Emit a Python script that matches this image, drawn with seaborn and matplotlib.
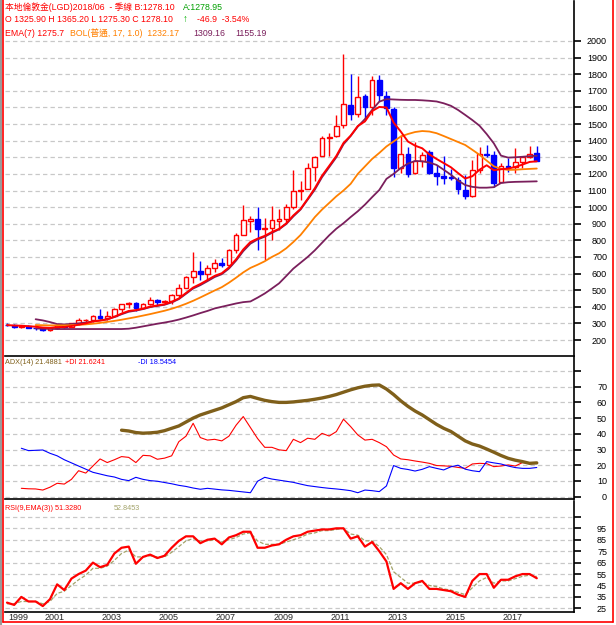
import numpy as np
import pandas as pd
import matplotlib
matplotlib.use("Agg")
import matplotlib.pyplot as plt
import matplotlib.transforms as mtransforms
from matplotlib.lines import Line2D
import seaborn as sns

# quarterly bars, 1999Q4 .. 2018Q2
quarters = pd.period_range("1999Q4", "2018Q2", freq="Q")

opens = [293, 290, 278, 284, 274, 272, 258, 270, 292, 278, 302, 318, 323, 347, 334, 346, 388, 416, 424, 394,
         416, 438, 428, 437, 473, 513, 582, 614, 599, 632, 662, 650, 743, 834, 918, 926, 870, 876, 918, 926,
         1000, 1096, 1112, 1240, 1310, 1414, 1430, 1496, 1616, 1562, 1666, 1600, 1766, 1670, 1592, 1234, 1322, 1204, 1276, 1334,
         1204, 1186, 1180, 1166, 1106, 1064, 1226, 1322, 1316, 1150, 1250, 1240, 1270, 1300, 1325.9]
highs = [300, 296, 290, 288, 276, 274, 272, 294, 296, 304, 330, 327, 350, 388, 372, 392, 417, 430, 427, 420,
         456, 444, 441, 476, 538, 588, 730, 676, 650, 690, 692, 745, 842, 1011, 945, 1000, 936, 1006, 990, 1018,
         1226, 1160, 1265, 1310, 1430, 1448, 1552, 1920, 1803, 1790, 1680, 1790, 1796, 1697, 1600, 1434, 1361, 1392, 1332, 1345,
         1255, 1307, 1232, 1180, 1191, 1282, 1362, 1375, 1337, 1263, 1296, 1357, 1300, 1366, 1365.2]
lows = [284, 274, 272, 270, 262, 255, 255, 264, 274, 277, 290, 302, 308, 326, 320, 342, 370, 392, 372, 386,
        411, 411, 414, 418, 456, 512, 543, 560, 560, 608, 640, 642, 725, 832, 853, 740, 681, 800, 865, 908,
        990, 1045, 1110, 1157, 1307, 1310, 1420, 1478, 1522, 1540, 1527, 1557, 1636, 1555, 1180, 1208, 1180, 1202, 1240, 1200,
        1132, 1142, 1162, 1077, 1046, 1062, 1208, 1300, 1122, 1150, 1214, 1204, 1236, 1296, 1275.3]
closes = [290, 278, 284, 274, 272, 258, 270, 292, 278, 302, 318, 323, 347, 334, 346, 388, 416, 424, 394, 416,
          438, 428, 437, 473, 513, 582, 614, 599, 632, 662, 650, 743, 834, 920, 926, 870, 876, 920, 926, 1000,
          1096, 1106, 1234, 1304, 1414, 1424, 1490, 1620, 1562, 1660, 1600, 1766, 1676, 1594, 1234, 1322, 1202, 1276, 1316, 1204,
          1186, 1178, 1176, 1112, 1064, 1226, 1322, 1316, 1144, 1250, 1240, 1270, 1300, 1322, 1278.1]

# EMA(7) from bar 0
ema7 = [290, 287, 286, 283, 280, 275, 273, 278, 278, 284, 292, 300, 312, 317, 324, 340, 359, 375, 380, 389,
        401, 408, 415, 430, 450, 483, 516, 537, 561, 586, 602, 637, 686, 745, 790, 810, 827, 850, 869, 902,
        950, 989, 1050, 1114, 1189, 1248, 1308, 1386, 1430, 1488, 1516, 1578, 1603, 1600, 1509, 1455, 1395, 1370, 1354, 1317,
        1290, 1265, 1240, 1205, 1172, 1186, 1225, 1252, 1222, 1228, 1232, 1242, 1256, 1272, 1275.7]

# Bollinger (17, 1.0) from bar 4
boll_start = 4
boll_mid = [290, 289, 288, 288, 288, 289, 291, 294, 298, 303, 309, 315, 322, 330, 338, 347, 356, 366, 376, 388,
            402, 418, 436, 456, 477, 498, 518, 545, 575, 607, 634, 653, 674, 700, 722, 752, 790, 832, 885, 940,
            985, 1025, 1065, 1100, 1140, 1200, 1245, 1290, 1326, 1365, 1395, 1425, 1440, 1452, 1458, 1455, 1445, 1428, 1410, 1392,
            1374, 1345, 1315, 1280, 1246, 1230, 1224, 1225, 1228, 1230, 1232.17]
boll_up = [325, 318, 308, 296, 294, 296, 300, 305, 312, 318, 325, 338, 355, 370, 377, 386, 398, 405, 412, 426,
           446, 478, 510, 530, 554, 579, 596, 630, 678, 735, 780, 805, 822, 845, 866, 898, 944, 985, 1045, 1105,
           1180, 1240, 1300, 1378, 1428, 1485, 1530, 1585, 1635, 1650, 1648, 1646, 1645, 1645, 1643, 1640, 1636, 1625, 1610, 1585,
           1555, 1524, 1490, 1440, 1384, 1310, 1298, 1300, 1303, 1307, 1309.16]
boll_low = [270, 268, 267, 266, 266, 266, 266, 266, 266, 266, 266, 266, 266, 268, 274, 282, 290, 298, 305, 313,
            323, 335, 348, 362, 375, 390, 400, 410, 420, 428, 432, 455, 480, 510, 541, 585, 630, 665, 700, 740,
            785, 830, 870, 903, 940, 975, 1015, 1060, 1103, 1170, 1200, 1235, 1262, 1278, 1276, 1268, 1254, 1225, 1195, 1160,
            1133, 1122, 1117, 1117, 1120, 1145, 1150, 1152, 1153, 1154, 1155.19]

# ADX(14) from bar 16, +DI / -DI from bar 2
adx_start = 16
adx = [42.3, 41.8, 40.8, 40.4, 40.6, 41.0, 42.0, 43.5, 45.0, 47.5, 50.0, 52.0, 53.5, 55.0, 56.5, 58.5, 60.5, 63.0, 63.8, 62.5,
       61.3, 60.5, 60.0, 60.0, 60.3, 60.8, 61.3, 62.0, 62.8, 63.8, 65.0, 66.5, 68.0, 69.3, 70.3, 70.9, 71.1, 68.5, 65.0, 61.0,
       57.5, 54.5, 52.0, 49.0, 46.0, 43.5, 41.5, 38.5, 35.5, 33.5, 32.2, 30.3, 28.3, 26.2, 24.4, 23.2, 22.3, 21.2, 21.49]
di_start = 2
plus_di = [5.3, 5.0, 4.9, 4.2, 6.0, 8.5, 8.0, 11.0, 16.5, 15.0, 19.5, 24.0, 21.7, 23.5, 25.5, 25.0, 21.7, 26.3, 26.0, 23.8,
           24.5, 26.0, 35.0, 38.5, 46.7, 37.6, 36.0, 36.5, 35.5, 38.5, 45.5, 51.0, 44.0, 37.0, 31.4, 31.4, 29.8, 29.3, 36.5, 34.4,
           37.2, 36.5, 40.3, 38.6, 41.4, 49.3, 44.6, 39.3, 36.0, 36.5, 34.4, 31.8, 26.5, 24.0, 23.5, 22.7, 22.0, 21.2, 19.8, 19.6,
           19.3, 18.6, 18.0, 20.8, 21.2, 21.0, 19.1, 19.5, 20.2, 19.5, 21.7, 21.2, 21.62]
minus_di = [30.8, 29.3, 29.5, 29.7, 27.6, 26.0, 23.5, 21.5, 19.5, 17.5, 15.5, 14.4, 13.3, 12.5, 11.0, 10.2, 12.3, 11.0, 10.2, 9.8,
            9.0, 8.2, 7.2, 6.5, 5.5, 4.7, 5.3, 4.8, 4.3, 4.0, 3.5, 3.0, 2.5, 9.8, 12.3, 11.2, 10.5, 9.8, 9.1, 8.0,
            7.0, 6.4, 5.8, 5.3, 4.9, 4.4, 3.8, 2.5, 4.2, 3.8, 3.2, 6.8, 19.8, 18.0, 17.3, 16.3, 17.4, 19.1, 18.0, 17.0,
            19.0, 20.0, 17.5, 16.5, 15.9, 22.3, 21.5, 20.8, 19.5, 18.5, 18.0, 18.0, 18.55]

# RSI(9) and its EMA(3) from bar 0
rsi = [30, 28, 35, 31, 31, 27, 33, 46, 41, 51, 55, 58, 65, 61, 63, 73, 78, 79, 64, 70,
       72, 69, 71, 78, 84, 88, 88, 82, 85, 86, 81, 87, 89, 92, 92, 78, 78, 80, 81, 85,
       88, 89, 92, 93, 94, 94, 95, 95, 86, 88, 79, 83, 75, 66, 42, 47, 42, 47, 49, 42,
       42, 41, 40, 37, 35, 49, 55, 55, 43, 50, 50, 53, 55, 55, 51.33]
rsi_ema = [29, 29, 31, 31, 31, 29, 31, 38, 40, 45, 50, 54, 60, 60, 62, 67, 73, 76, 70, 70,
           71, 70, 70, 74, 79, 84, 86, 84, 84, 85, 83, 85, 87, 90, 91, 84, 81, 81, 81, 83,
           85, 87, 90, 91, 93, 93, 94, 95, 90, 89, 84, 84, 79, 72, 57, 52, 47, 47, 48, 45,
           44, 42, 41, 39, 37, 43, 49, 52, 47, 49, 49, 51, 53, 54, 52.85]

tick_years = [1999, 2001, 2003, 2005, 2007, 2009, 2011, 2013, 2015, 2017]

RED = "#ff0000"
BLUE = "#0000ff"
ORANGE = "#ff8000"
PURPLE = "#7a1f5c"
BROWN = "#7f5f1a"
OLIVE = "#a3a36a"
GRID = "#c8c8c8"

sns.set_style("white")
plt.rcParams["font.family"] = ["Liberation Sans", "Noto Sans CJK TC", "DejaVu Sans"]

W, H = 616, 625
fig = plt.figure(figsize=(W / 100, H / 100), dpi=100)


def frac(x0, y0, x1, y1):
    # pixel box (top-left origin) -> figure fraction rect
    return [x0 / W, 1 - y1 / H, (x1 - x0) / W, (y1 - y0) / H]


ax_p = fig.add_axes(frac(5, 1, 574, 356))
ax_a = fig.add_axes(frac(5, 357, 574, 499))
ax_r = fig.add_axes(frac(5, 501, 574, 612))

x = np.arange(len(quarters))
xlim = (-0.28, 79.2)


def style_panel(ax, ylim, ticks, labels):
    ax.set_xlim(*xlim)
    ax.set_ylim(*ylim)
    for s in ("top", "left"):
        ax.spines[s].set_visible(False)
    for s in ("bottom", "right"):
        ax.spines[s].set_color("black")
        ax.spines[s].set_linewidth(1.2)
    ax.set_yticks(ticks)
    ax.set_yticklabels(labels)
    ax.yaxis.tick_right()
    ax.tick_params(axis="y", direction="out", length=5, width=1.2, pad=18.8,
                   labelsize=6.5, colors="black")
    plt.setp(ax.get_yticklabels(), ha="right")
    ax.grid(axis="y", color=GRID, linestyle=(0, (3.5, 2.5)), linewidth=0.9)
    ax.grid(axis="x", visible=False)
    ax.set_xlabel("")
    ax.set_ylabel("")


# ---- price panel ----
o = np.array(opens)
c = np.array(closes)
up = c >= o
wick_col = np.where(up, RED, BLUE)
ax_p.vlines(x, lows, highs, colors=wick_col, linewidth=1, zorder=3)
ax_p.bar(x, np.abs(c - o), bottom=np.minimum(o, c), width=0.66,
         color=np.where(up, "white", BLUE), edgecolor=wick_col, linewidth=1, zorder=4)

bx = x[boll_start:]
sns.lineplot(x=bx, y=boll_up, ax=ax_p, color=PURPLE, linewidth=1.3, zorder=5)
sns.lineplot(x=bx, y=boll_low, ax=ax_p, color=PURPLE, linewidth=1.3, zorder=5)
sns.lineplot(x=bx, y=boll_mid, ax=ax_p, color=ORANGE, linewidth=1.3, zorder=5)
sns.lineplot(x=x, y=ema7, ax=ax_p, color=RED, linewidth=1.4, zorder=6)

ticks = list(range(200, 2001, 100))
style_panel(ax_p, (103.7, 2240.8), ticks, [str(t) for t in ticks])
ax_p.set_xticks([])

# ---- ADX panel ----
sns.lineplot(x=x[adx_start:], y=adx, ax=ax_a, color=BROWN, linewidth=2.4, zorder=5)
sns.lineplot(x=x[di_start:], y=plus_di, ax=ax_a, color=RED, linewidth=0.8, zorder=4)
sns.lineplot(x=x[di_start:], y=minus_di, ax=ax_a, color=BLUE, linewidth=0.8, zorder=4)
ticks = list(range(0, 81, 10))
style_panel(ax_a, (-1.5, 88.9), ticks, [str(t) if t < 80 else "" for t in ticks])
ax_a.set_xticks([])

# ---- RSI panel ----
sns.lineplot(x=x, y=rsi_ema, ax=ax_r, color=OLIVE, linewidth=0.9, linestyle=(0, (3, 1.5)), zorder=4)
sns.lineplot(x=x, y=rsi, ax=ax_r, color=RED, linewidth=1.6, zorder=5)
ticks = list(range(25, 106, 10))
style_panel(ax_r, (21.8, 118.9), ticks, [str(t) if t < 105 else "" for t in ticks])
year_pos = [int(np.argmax(quarters.year == y)) for y in tick_years]
ax_r.set_xticks(year_pos)
ax_r.set_xticklabels([str(y) for y in tick_years])
ax_r.tick_params(axis="x", direction="out", length=7, width=1, pad=-6.5, labelsize=6.5)
shift = mtransforms.ScaledTranslation(1 / 72, 0, fig.dpi_scale_trans)
for lbl in ax_r.get_xticklabels():
    lbl.set_ha("left")
    lbl.set_transform(lbl.get_transform() + shift)


# ---- header texts ----
def label(px, py, s, color, size=6.3):
    fig.text(px / W, 1 - py / H, s, color=color, fontsize=size, va="center", ha="left")


label(5, 7.5, "本地倫敦金(LGD)2018/06  - 季線 B:1278.10", RED)
label(183, 7.5, "A:1278.95", "#00a000")
label(5, 19.5, "O 1325.90 H 1365.20 L 1275.30 C 1278.10", RED)
label(183, 19.5, "↑", "#00b000", 7)
label(197, 19.5, "-46.9  -3.54%", RED)
label(5, 33, "EMA(7) 1275.7", RED)
label(70, 33, "BOL(普通, 17, 1.0)  1232.17", ORANGE)
label(193, 33, "1309.16", PURPLE)
label(235, 33, "1155.19", PURPLE)

label(5, 363, "ADX(14) 21.4881", BROWN, 5.2)
label(65, 363, "+DI 21.6241", RED, 5.2)
label(138, 363, "-DI 18.5454", BLUE, 5.2)

label(5, 508, "RSI(9,EMA(3)) 51.3280", RED, 5.2)
label(114, 508, "52.8453", OLIVE, 5.2)

# ---- outer frame ----
def frame_line(xs, ys, color, lw):
    fig.add_artist(Line2D([v / W for v in xs], [1 - v / H for v in ys],
                          color=color, linewidth=lw, transform=fig.transFigure))


frame_line([1, 1], [0, 625], "#9a9a9a", 1.5)
frame_line([3, 3], [0, 622], RED, 1.2)
frame_line([613, 613], [0, 622], RED, 1.2)
frame_line([3, 613], [622, 622], RED, 1.2)

fig.savefig("out.png", dpi=100)
